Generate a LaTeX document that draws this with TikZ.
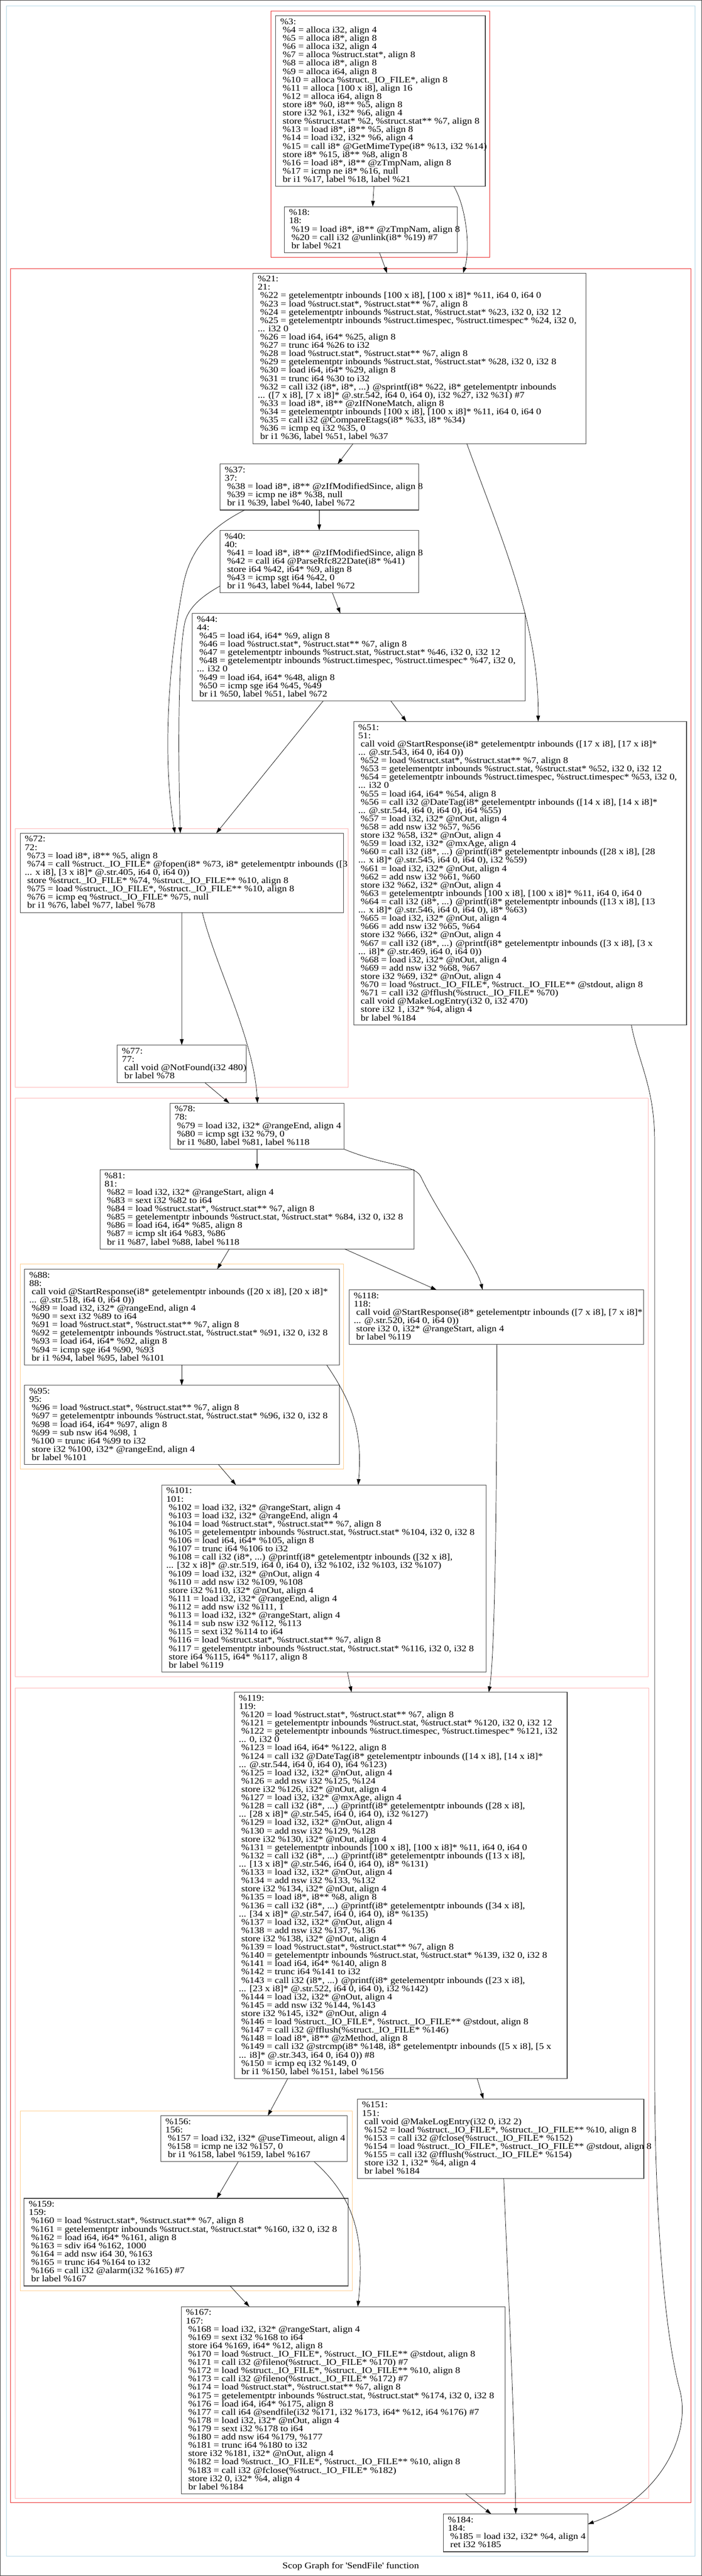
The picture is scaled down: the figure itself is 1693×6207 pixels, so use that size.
\documentclass[tikz,border=0pt]{standalone}
\usepackage{xcolor}
\usepackage{fontspec}
\setmainfont{Liberation Serif}[FakeStretch=1.13]
\usepackage{tikz}
\usetikzlibrary{arrows.meta}

\definecolor{clblue}{RGB}{176,214,230}
\definecolor{clred}{RGB}{235,40,40}
\definecolor{clpink}{RGB}{255,182,182}
\definecolor{clorange}{RGB}{255,205,140}

\newcommand{\blkind}{\hspace*{5.9pt}}
\newcommand{\blkstrut}{\rule{0pt}{15pt}}

\tikzset{
    bb/.style={rectangle, draw=black!75, line width=1.3pt, inner sep=0pt, outer sep=0pt, anchor=north west},
    code/.style={anchor=north west, inner sep=0pt, align=left, font=\fontsize{21pt}{20pt}\selectfont},
    flow/.style={-{Triangle[length=14pt,width=9pt]}, line width=0.9pt},
    cluster/.style={line width=1.2pt}
}

\begin{document}
\begin{tikzpicture}[x=1pt, y=-1pt]
    \useasboundingbox (0,0) rectangle (1693,6207);
    \draw[black!75, line width=1.5pt] (0.75,0.75) rectangle (1692.25,6206.25);

    \draw[cluster, clblue] (16,14.7) rectangle (1676,6159.7);
    \draw[cluster, clred] (653,26.4) rectangle (1181,620);
    \draw[cluster, clred] (26,647) rectangle (1667,6030.4);
    \draw[cluster, clpink] (36.7,1996.6) rectangle (840,2619.5);
    \draw[cluster, clpink] (36.7,2646.6) rectangle (1564,4039.7);
    \draw[cluster, clpink] (36.7,4067) rectangle (1565,6019.8);
    \draw[cluster, clorange] (48.6,3046) rectangle (829,3540);
    \draw[cluster, clorange] (48.6,5086.7) rectangle (850,5519.8);

    \node[bb, minimum width=505.8pt, minimum height=411pt] at (664.8,38.1) (b3) {};
    \node[bb, minimum width=417pt, minimum height=111pt] at (686,498) (b18) {};
    \node[bb, minimum width=802.4pt, minimum height=411pt] at (610.6,658) (b21) {};
    \node[bb, minimum width=479.3pt, minimum height=111pt] at (530.7,1118) (b37) {};
    \node[bb, minimum width=479.3pt, minimum height=151pt] at (530.7,1277.8) (b40) {};
    \node[bb, minimum width=802.9pt, minimum height=211pt] at (463.8,1478) (b44) {};
    \node[bb, minimum width=803pt, minimum height=731pt] at (853,1738.5) (b51) {};
    \node[bb, minimum width=780.4pt, minimum height=191pt] at (48.6,2007.7) (b72) {};
    \node[bb, minimum width=311pt, minimum height=91pt] at (283,2518) (b77) {};
    \node[bb, minimum width=420pt, minimum height=111pt] at (410,2658) (b78) {};
    \node[bb, minimum width=758pt, minimum height=191pt] at (241,2818.5) (b81) {};
    \node[bb, minimum width=759.2pt, minimum height=231pt] at (59.4,3058) (b88) {};
    \node[bb, minimum width=759.2pt, minimum height=191pt] at (59.4,3338) (b95) {};
    \node[bb, minimum width=782pt, minimum height=451pt] at (390,3578) (b101) {};
    \node[bb, minimum width=710pt, minimum height=131pt] at (842,3108) (b118) {};
    \node[bb, minimum width=803pt, minimum height=931pt] at (565,4077.5) (b119) {};
    \node[bb, minimum width=691pt, minimum height=191pt] at (862,5057.8) (b151) {};
    \node[bb, minimum width=449.3pt, minimum height=111pt] at (387.7,5097.8) (b156) {};
    \node[bb, minimum width=781.7pt, minimum height=211pt] at (58.3,5297) (b159) {};
    \node[bb, minimum width=782pt, minimum height=451pt] at (437,5558) (b167) {};
    \node[bb, minimum width=349pt, minimum height=91pt] at (1069,6057.6) (b184) {};

    \node[code] at ([shift={(11,5.5)}]b3.north west) (t3) {\blkstrut\%3:\\
\blkind\%4 = alloca i32, align 4\\
\blkind\%5 = alloca i8*, align 8\\
\blkind\%6 = alloca i32, align 4\\
\blkind\%7 = alloca \%struct.stat*, align 8\\
\blkind\%8 = alloca i8*, align 8\\
\blkind\%9 = alloca i64, align 8\\
\blkind\%10 = alloca \%struct.\_IO\_FILE*, align 8\\
\blkind\%11 = alloca [100 x i8], align 16\\
\blkind\%12 = alloca i64, align 8\\
\blkind store i8* \%0, i8** \%5, align 8\\
\blkind store i32 \%1, i32* \%6, align 4\\
\blkind store \%struct.stat* \%2, \%struct.stat** \%7, align 8\\
\blkind\%13 = load i8*, i8** \%5, align 8\\
\blkind\%14 = load i32, i32* \%6, align 4\\
\blkind\%15 = call i8* @GetMimeType(i8* \%13, i32 \%14)\\
\blkind store i8* \%15, i8** \%8, align 8\\
\blkind\%16 = load i8*, i8** @zTmpNam, align 8\\
\blkind\%17 = icmp ne i8* \%16, null\\
\blkind br i1 \%17, label \%18, label \%21};

    \node[code] at ([shift={(11,5.5)}]b18.north west) (t18) {\blkstrut\%18:\\
18:\\
\blkind\%19 = load i8*, i8** @zTmpNam, align 8\\
\blkind\%20 = call i32 @unlink(i8* \%19) \#7\\
\blkind br label \%21};

    \node[code] at ([shift={(11,5.5)}]b21.north west) (t21) {\blkstrut\%21:\\
21:\\
\blkind\%22 = getelementptr inbounds [100 x i8], [100 x i8]* \%11, i64 0, i64 0\\
\blkind\%23 = load \%struct.stat*, \%struct.stat** \%7, align 8\\
\blkind\%24 = getelementptr inbounds \%struct.stat, \%struct.stat* \%23, i32 0, i32 12\\
\blkind\%25 = getelementptr inbounds \%struct.timespec, \%struct.timespec* \%24, i32 0,\\
... i32 0\\
\blkind\%26 = load i64, i64* \%25, align 8\\
\blkind\%27 = trunc i64 \%26 to i32\\
\blkind\%28 = load \%struct.stat*, \%struct.stat** \%7, align 8\\
\blkind\%29 = getelementptr inbounds \%struct.stat, \%struct.stat* \%28, i32 0, i32 8\\
\blkind\%30 = load i64, i64* \%29, align 8\\
\blkind\%31 = trunc i64 \%30 to i32\\
\blkind\%32 = call i32 (i8*, i8*, ...) @sprintf(i8* \%22, i8* getelementptr inbounds\\
... ([7 x i8], [7 x i8]* @.str.542, i64 0, i64 0), i32 \%27, i32 \%31) \#7\\
\blkind\%33 = load i8*, i8** @zIfNoneMatch, align 8\\
\blkind\%34 = getelementptr inbounds [100 x i8], [100 x i8]* \%11, i64 0, i64 0\\
\blkind\%35 = call i32 @CompareEtags(i8* \%33, i8* \%34)\\
\blkind\%36 = icmp eq i32 \%35, 0\\
\blkind br i1 \%36, label \%51, label \%37};

    \node[code] at ([shift={(11,5.5)}]b37.north west) (t37) {\blkstrut\%37:\\
37:\\
\blkind\%38 = load i8*, i8** @zIfModifiedSince, align 8\\
\blkind\%39 = icmp ne i8* \%38, null\\
\blkind br i1 \%39, label \%40, label \%72};

    \node[code] at ([shift={(11,5.5)}]b40.north west) (t40) {\blkstrut\%40:\\
40:\\
\blkind\%41 = load i8*, i8** @zIfModifiedSince, align 8\\
\blkind\%42 = call i64 @ParseRfc822Date(i8* \%41)\\
\blkind store i64 \%42, i64* \%9, align 8\\
\blkind\%43 = icmp sgt i64 \%42, 0\\
\blkind br i1 \%43, label \%44, label \%72};

    \node[code] at ([shift={(11,5.5)}]b44.north west) (t44) {\blkstrut\%44:\\
44:\\
\blkind\%45 = load i64, i64* \%9, align 8\\
\blkind\%46 = load \%struct.stat*, \%struct.stat** \%7, align 8\\
\blkind\%47 = getelementptr inbounds \%struct.stat, \%struct.stat* \%46, i32 0, i32 12\\
\blkind\%48 = getelementptr inbounds \%struct.timespec, \%struct.timespec* \%47, i32 0,\\
... i32 0\\
\blkind\%49 = load i64, i64* \%48, align 8\\
\blkind\%50 = icmp sge i64 \%45, \%49\\
\blkind br i1 \%50, label \%51, label \%72};

    \node[code] at ([shift={(11,5.5)}]b51.north west) (t51) {\blkstrut\%51:\\
51:\\
\blkind call void @StartResponse(i8* getelementptr inbounds ([17 x i8], [17 x i8]*\\
... @.str.543, i64 0, i64 0))\\
\blkind\%52 = load \%struct.stat*, \%struct.stat** \%7, align 8\\
\blkind\%53 = getelementptr inbounds \%struct.stat, \%struct.stat* \%52, i32 0, i32 12\\
\blkind\%54 = getelementptr inbounds \%struct.timespec, \%struct.timespec* \%53, i32 0,\\
... i32 0\\
\blkind\%55 = load i64, i64* \%54, align 8\\
\blkind\%56 = call i32 @DateTag(i8* getelementptr inbounds ([14 x i8], [14 x i8]*\\
... @.str.544, i64 0, i64 0), i64 \%55)\\
\blkind\%57 = load i32, i32* @nOut, align 4\\
\blkind\%58 = add nsw i32 \%57, \%56\\
\blkind store i32 \%58, i32* @nOut, align 4\\
\blkind\%59 = load i32, i32* @mxAge, align 4\\
\blkind\%60 = call i32 (i8*, ...) @printf(i8* getelementptr inbounds ([28 x i8], [28\\
... x i8]* @.str.545, i64 0, i64 0), i32 \%59)\\
\blkind\%61 = load i32, i32* @nOut, align 4\\
\blkind\%62 = add nsw i32 \%61, \%60\\
\blkind store i32 \%62, i32* @nOut, align 4\\
\blkind\%63 = getelementptr inbounds [100 x i8], [100 x i8]* \%11, i64 0, i64 0\\
\blkind\%64 = call i32 (i8*, ...) @printf(i8* getelementptr inbounds ([13 x i8], [13\\
... x i8]* @.str.546, i64 0, i64 0), i8* \%63)\\
\blkind\%65 = load i32, i32* @nOut, align 4\\
\blkind\%66 = add nsw i32 \%65, \%64\\
\blkind store i32 \%66, i32* @nOut, align 4\\
\blkind\%67 = call i32 (i8*, ...) @printf(i8* getelementptr inbounds ([3 x i8], [3 x\\
... i8]* @.str.469, i64 0, i64 0))\\
\blkind\%68 = load i32, i32* @nOut, align 4\\
\blkind\%69 = add nsw i32 \%68, \%67\\
\blkind store i32 \%69, i32* @nOut, align 4\\
\blkind\%70 = load \%struct.\_IO\_FILE*, \%struct.\_IO\_FILE** @stdout, align 8\\
\blkind\%71 = call i32 @fflush(\%struct.\_IO\_FILE* \%70)\\
\blkind call void @MakeLogEntry(i32 0, i32 470)\\
\blkind store i32 1, i32* \%4, align 4\\
\blkind br label \%184};

    \node[code] at ([shift={(11,5.5)}]b72.north west) (t72) {\blkstrut\%72:\\
72:\\
\blkind\%73 = load i8*, i8** \%5, align 8\\
\blkind\%74 = call \%struct.\_IO\_FILE* @fopen(i8* \%73, i8* getelementptr inbounds ([3\\
... x i8], [3 x i8]* @.str.405, i64 0, i64 0))\\
\blkind store \%struct.\_IO\_FILE* \%74, \%struct.\_IO\_FILE** \%10, align 8\\
\blkind\%75 = load \%struct.\_IO\_FILE*, \%struct.\_IO\_FILE** \%10, align 8\\
\blkind\%76 = icmp eq \%struct.\_IO\_FILE* \%75, null\\
\blkind br i1 \%76, label \%77, label \%78};

    \node[code] at ([shift={(11,5.5)}]b77.north west) (t77) {\blkstrut\%77:\\
77:\\
\blkind call void @NotFound(i32 480)\\
\blkind br label \%78};

    \node[code] at ([shift={(11,5.5)}]b78.north west) (t78) {\blkstrut\%78:\\
78:\\
\blkind\%79 = load i32, i32* @rangeEnd, align 4\\
\blkind\%80 = icmp sgt i32 \%79, 0\\
\blkind br i1 \%80, label \%81, label \%118};

    \node[code] at ([shift={(11,5.5)}]b81.north west) (t81) {\blkstrut\%81:\\
81:\\
\blkind\%82 = load i32, i32* @rangeStart, align 4\\
\blkind\%83 = sext i32 \%82 to i64\\
\blkind\%84 = load \%struct.stat*, \%struct.stat** \%7, align 8\\
\blkind\%85 = getelementptr inbounds \%struct.stat, \%struct.stat* \%84, i32 0, i32 8\\
\blkind\%86 = load i64, i64* \%85, align 8\\
\blkind\%87 = icmp slt i64 \%83, \%86\\
\blkind br i1 \%87, label \%88, label \%118};

    \node[code] at ([shift={(11,5.5)}]b88.north west) (t88) {\blkstrut\%88:\\
88:\\
\blkind call void @StartResponse(i8* getelementptr inbounds ([20 x i8], [20 x i8]*\\
... @.str.518, i64 0, i64 0))\\
\blkind\%89 = load i32, i32* @rangeEnd, align 4\\
\blkind\%90 = sext i32 \%89 to i64\\
\blkind\%91 = load \%struct.stat*, \%struct.stat** \%7, align 8\\
\blkind\%92 = getelementptr inbounds \%struct.stat, \%struct.stat* \%91, i32 0, i32 8\\
\blkind\%93 = load i64, i64* \%92, align 8\\
\blkind\%94 = icmp sge i64 \%90, \%93\\
\blkind br i1 \%94, label \%95, label \%101};

    \node[code] at ([shift={(11,5.5)}]b95.north west) (t95) {\blkstrut\%95:\\
95:\\
\blkind\%96 = load \%struct.stat*, \%struct.stat** \%7, align 8\\
\blkind\%97 = getelementptr inbounds \%struct.stat, \%struct.stat* \%96, i32 0, i32 8\\
\blkind\%98 = load i64, i64* \%97, align 8\\
\blkind\%99 = sub nsw i64 \%98, 1\\
\blkind\%100 = trunc i64 \%99 to i32\\
\blkind store i32 \%100, i32* @rangeEnd, align 4\\
\blkind br label \%101};

    \node[code] at ([shift={(11,5.5)}]b101.north west) (t101) {\blkstrut\%101:\\
101:\\
\blkind\%102 = load i32, i32* @rangeStart, align 4\\
\blkind\%103 = load i32, i32* @rangeEnd, align 4\\
\blkind\%104 = load \%struct.stat*, \%struct.stat** \%7, align 8\\
\blkind\%105 = getelementptr inbounds \%struct.stat, \%struct.stat* \%104, i32 0, i32 8\\
\blkind\%106 = load i64, i64* \%105, align 8\\
\blkind\%107 = trunc i64 \%106 to i32\\
\blkind\%108 = call i32 (i8*, ...) @printf(i8* getelementptr inbounds ([32 x i8],\\
... [32 x i8]* @.str.519, i64 0, i64 0), i32 \%102, i32 \%103, i32 \%107)\\
\blkind\%109 = load i32, i32* @nOut, align 4\\
\blkind\%110 = add nsw i32 \%109, \%108\\
\blkind store i32 \%110, i32* @nOut, align 4\\
\blkind\%111 = load i32, i32* @rangeEnd, align 4\\
\blkind\%112 = add nsw i32 \%111, 1\\
\blkind\%113 = load i32, i32* @rangeStart, align 4\\
\blkind\%114 = sub nsw i32 \%112, \%113\\
\blkind\%115 = sext i32 \%114 to i64\\
\blkind\%116 = load \%struct.stat*, \%struct.stat** \%7, align 8\\
\blkind\%117 = getelementptr inbounds \%struct.stat, \%struct.stat* \%116, i32 0, i32 8\\
\blkind store i64 \%115, i64* \%117, align 8\\
\blkind br label \%119};

    \node[code] at ([shift={(11,5.5)}]b118.north west) (t118) {\blkstrut\%118:\\
118:\\
\blkind call void @StartResponse(i8* getelementptr inbounds ([7 x i8], [7 x i8]*\\
... @.str.520, i64 0, i64 0))\\
\blkind store i32 0, i32* @rangeStart, align 4\\
\blkind br label \%119};

    \node[code] at ([shift={(11,5.5)}]b119.north west) (t119) {\blkstrut\%119:\\
119:\\
\blkind\%120 = load \%struct.stat*, \%struct.stat** \%7, align 8\\
\blkind\%121 = getelementptr inbounds \%struct.stat, \%struct.stat* \%120, i32 0, i32 12\\
\blkind\%122 = getelementptr inbounds \%struct.timespec, \%struct.timespec* \%121, i32\\
... 0, i32 0\\
\blkind\%123 = load i64, i64* \%122, align 8\\
\blkind\%124 = call i32 @DateTag(i8* getelementptr inbounds ([14 x i8], [14 x i8]*\\
... @.str.544, i64 0, i64 0), i64 \%123)\\
\blkind\%125 = load i32, i32* @nOut, align 4\\
\blkind\%126 = add nsw i32 \%125, \%124\\
\blkind store i32 \%126, i32* @nOut, align 4\\
\blkind\%127 = load i32, i32* @mxAge, align 4\\
\blkind\%128 = call i32 (i8*, ...) @printf(i8* getelementptr inbounds ([28 x i8],\\
... [28 x i8]* @.str.545, i64 0, i64 0), i32 \%127)\\
\blkind\%129 = load i32, i32* @nOut, align 4\\
\blkind\%130 = add nsw i32 \%129, \%128\\
\blkind store i32 \%130, i32* @nOut, align 4\\
\blkind\%131 = getelementptr inbounds [100 x i8], [100 x i8]* \%11, i64 0, i64 0\\
\blkind\%132 = call i32 (i8*, ...) @printf(i8* getelementptr inbounds ([13 x i8],\\
... [13 x i8]* @.str.546, i64 0, i64 0), i8* \%131)\\
\blkind\%133 = load i32, i32* @nOut, align 4\\
\blkind\%134 = add nsw i32 \%133, \%132\\
\blkind store i32 \%134, i32* @nOut, align 4\\
\blkind\%135 = load i8*, i8** \%8, align 8\\
\blkind\%136 = call i32 (i8*, ...) @printf(i8* getelementptr inbounds ([34 x i8],\\
... [34 x i8]* @.str.547, i64 0, i64 0), i8* \%135)\\
\blkind\%137 = load i32, i32* @nOut, align 4\\
\blkind\%138 = add nsw i32 \%137, \%136\\
\blkind store i32 \%138, i32* @nOut, align 4\\
\blkind\%139 = load \%struct.stat*, \%struct.stat** \%7, align 8\\
\blkind\%140 = getelementptr inbounds \%struct.stat, \%struct.stat* \%139, i32 0, i32 8\\
\blkind\%141 = load i64, i64* \%140, align 8\\
\blkind\%142 = trunc i64 \%141 to i32\\
\blkind\%143 = call i32 (i8*, ...) @printf(i8* getelementptr inbounds ([23 x i8],\\
... [23 x i8]* @.str.522, i64 0, i64 0), i32 \%142)\\
\blkind\%144 = load i32, i32* @nOut, align 4\\
\blkind\%145 = add nsw i32 \%144, \%143\\
\blkind store i32 \%145, i32* @nOut, align 4\\
\blkind\%146 = load \%struct.\_IO\_FILE*, \%struct.\_IO\_FILE** @stdout, align 8\\
\blkind\%147 = call i32 @fflush(\%struct.\_IO\_FILE* \%146)\\
\blkind\%148 = load i8*, i8** @zMethod, align 8\\
\blkind\%149 = call i32 @strcmp(i8* \%148, i8* getelementptr inbounds ([5 x i8], [5 x\\
... i8]* @.str.343, i64 0, i64 0)) \#8\\
\blkind\%150 = icmp eq i32 \%149, 0\\
\blkind br i1 \%150, label \%151, label \%156};

    \node[code] at ([shift={(11,5.5)}]b151.north west) (t151) {\blkstrut\%151:\\
151:\\
\blkind call void @MakeLogEntry(i32 0, i32 2)\\
\blkind\%152 = load \%struct.\_IO\_FILE*, \%struct.\_IO\_FILE** \%10, align 8\\
\blkind\%153 = call i32 @fclose(\%struct.\_IO\_FILE* \%152)\\
\blkind\%154 = load \%struct.\_IO\_FILE*, \%struct.\_IO\_FILE** @stdout, align 8\\
\blkind\%155 = call i32 @fflush(\%struct.\_IO\_FILE* \%154)\\
\blkind store i32 1, i32* \%4, align 4\\
\blkind br label \%184};

    \node[code] at ([shift={(11,5.5)}]b156.north west) (t156) {\blkstrut\%156:\\
156:\\
\blkind\%157 = load i32, i32* @useTimeout, align 4\\
\blkind\%158 = icmp ne i32 \%157, 0\\
\blkind br i1 \%158, label \%159, label \%167};

    \node[code] at ([shift={(11,5.5)}]b159.north west) (t159) {\blkstrut\%159:\\
159:\\
\blkind\%160 = load \%struct.stat*, \%struct.stat** \%7, align 8\\
\blkind\%161 = getelementptr inbounds \%struct.stat, \%struct.stat* \%160, i32 0, i32 8\\
\blkind\%162 = load i64, i64* \%161, align 8\\
\blkind\%163 = sdiv i64 \%162, 1000\\
\blkind\%164 = add nsw i64 30, \%163\\
\blkind\%165 = trunc i64 \%164 to i32\\
\blkind\%166 = call i32 @alarm(i32 \%165) \#7\\
\blkind br label \%167};

    \node[code] at ([shift={(11,5.5)}]b167.north west) (t167) {\blkstrut\%167:\\
167:\\
\blkind\%168 = load i32, i32* @rangeStart, align 4\\
\blkind\%169 = sext i32 \%168 to i64\\
\blkind store i64 \%169, i64* \%12, align 8\\
\blkind\%170 = load \%struct.\_IO\_FILE*, \%struct.\_IO\_FILE** @stdout, align 8\\
\blkind\%171 = call i32 @fileno(\%struct.\_IO\_FILE* \%170) \#7\\
\blkind\%172 = load \%struct.\_IO\_FILE*, \%struct.\_IO\_FILE** \%10, align 8\\
\blkind\%173 = call i32 @fileno(\%struct.\_IO\_FILE* \%172) \#7\\
\blkind\%174 = load \%struct.stat*, \%struct.stat** \%7, align 8\\
\blkind\%175 = getelementptr inbounds \%struct.stat, \%struct.stat* \%174, i32 0, i32 8\\
\blkind\%176 = load i64, i64* \%175, align 8\\
\blkind\%177 = call i64 @sendfile(i32 \%171, i32 \%173, i64* \%12, i64 \%176) \#7\\
\blkind\%178 = load i32, i32* @nOut, align 4\\
\blkind\%179 = sext i32 \%178 to i64\\
\blkind\%180 = add nsw i64 \%179, \%177\\
\blkind\%181 = trunc i64 \%180 to i32\\
\blkind store i32 \%181, i32* @nOut, align 4\\
\blkind\%182 = load \%struct.\_IO\_FILE*, \%struct.\_IO\_FILE** \%10, align 8\\
\blkind\%183 = call i32 @fclose(\%struct.\_IO\_FILE* \%182)\\
\blkind store i32 0, i32* \%4, align 4\\
\blkind br label \%184};

    \node[code] at ([shift={(11,5.5)}]b184.north west) (t184) {\blkstrut\%184:\\
184:\\
\blkind\%185 = load i32, i32* \%4, align 4\\
\blkind ret i32 \%185};

    \node[font=\fontsize{21pt}{20pt}\selectfont, inner sep=0pt] at (846,6184) (caption) {Scop Graph for \textquotesingle SendFile\textquotesingle\ function};

    \draw[flow] ([xshift=237pt]b3.south west) -- ([xshift=213pt]b18.north west);
    \draw[flow] ([xshift=430pt]b3.south west) .. controls (1125,500) and (1135,600) .. ([xshift=506.4pt]b21.north west);
    \draw[flow] ([xshift=229.5pt]b18.south west) -- ([xshift=323pt]b21.north west);
    \draw[flow] ([xshift=241pt]b21.south west) -- ([xshift=283.8pt]b37.north west);
    \draw[flow] ([xshift=515.4pt]b21.south west) .. controls (1210,1300) and (1300,1500) .. ([xshift=445pt]b51.north west);
    \draw[flow] ([xshift=239.3pt]b37.south west) -- ([xshift=239.3pt]b40.north west);
    \draw[flow] ([xshift=59.3pt]b37.south west) .. controls (500,1275) and (455,1330) .. (440,1420) .. controls (400,1640) and (395,1850) .. ([xshift=373.4pt]b72.north west);
    \draw[flow] ([xshift=271.1pt]b40.south west) -- ([xshift=357.2pt]b44.north west);
    \draw[flow] ([yshift=16.8pt]b40.south west) .. controls (490,1435) and (458,1460) .. (447,1495) .. controls (428,1570) and (430,1850) .. ([xshift=386.4pt]b72.north west);
    \draw[flow] ([xshift=478.9pt]b44.south west) -- ([xshift=127pt]b51.north west);
    \draw[flow] ([xshift=315.7pt]b44.south west) -- ([xshift=473pt]b72.north west);
    \draw[flow] ([xshift=669.7pt]b51.south west) .. controls (1540,2560) and (1579,2620) .. (1579,2750) -- (1579,5000) .. controls (1580,5400) and (1610,5650) .. (1640,5760) .. controls (1668,5870) and (1590,6020) .. ([yshift=-24.4pt]b184.north east);
    \draw[flow] ([xshift=389.8pt]b72.south west) -- ([xshift=155.4pt]b77.north west);
    \draw[flow] ([xshift=439.4pt]b72.south west) .. controls (520,2330) and (612,2500) .. ([xshift=211pt]b78.north west);
    \draw[flow] ([xshift=211.6pt]b77.south west) -- ([xshift=143pt]b78.north west);
    \draw[flow] ([xshift=210pt]b78.south west) -- ([xshift=379pt]b81.north west);
    \draw[flow] (b78.south east) .. controls (930,2810) and (1000,2805) .. (1015,2835) .. controls (1060,2930) and (1150,3050) .. ([xshift=322pt]b118.north west);
    \draw[flow] ([xshift=312pt]b81.south west) -- ([xshift=464.6pt]b88.north west);
    \draw[flow] ([xshift=590.5pt]b81.south west) -- ([xshift=211pt]b118.north west);
    \draw[flow] ([xshift=379pt]b88.south west) -- ([xshift=379pt]b95.north west);
    \draw[flow] ([xshift=728.6pt]b88.south west) .. controls (850,3380) and (875,3450) .. ([xshift=474pt]b101.north west);
    \draw[flow] ([xshift=467.6pt]b95.south west) -- ([xshift=179pt]b101.north west);
    \draw[flow] ([xshift=448pt]b101.south west) -- ([xshift=283pt]b119.north west);
    \draw[flow] ([xshift=356.7pt]b118.south west) .. controls (1198,3700) and (1192,4000) .. ([xshift=614pt]b119.north west);
    \draw[flow] ([xshift=586pt]b119.south west) -- ([xshift=304pt]b151.north west);
    \draw[flow] ([xshift=129pt]b119.south west) -- ([xshift=258.3pt]b156.north west);
    \draw[flow] ([xshift=353pt]b151.south west) .. controls (1225,5500) and (1240,5800) .. ([xshift=175pt]b184.north west);
    \draw[flow] ([xshift=186.8pt]b156.south west) -- ([xshift=464.4pt]b159.north west);
    \draw[flow] ([xshift=370.3pt]b156.south west) .. controls (860,5300) and (880,5400) .. ([xshift=426pt]b167.north west);
    \draw[flow] ([xshift=496.7pt]b159.south west) -- ([xshift=164.5pt]b167.north west);
    \draw[flow] ([xshift=686pt]b167.south west) -- ([xshift=115.7pt]b184.north west);
\end{tikzpicture}
\end{document}
